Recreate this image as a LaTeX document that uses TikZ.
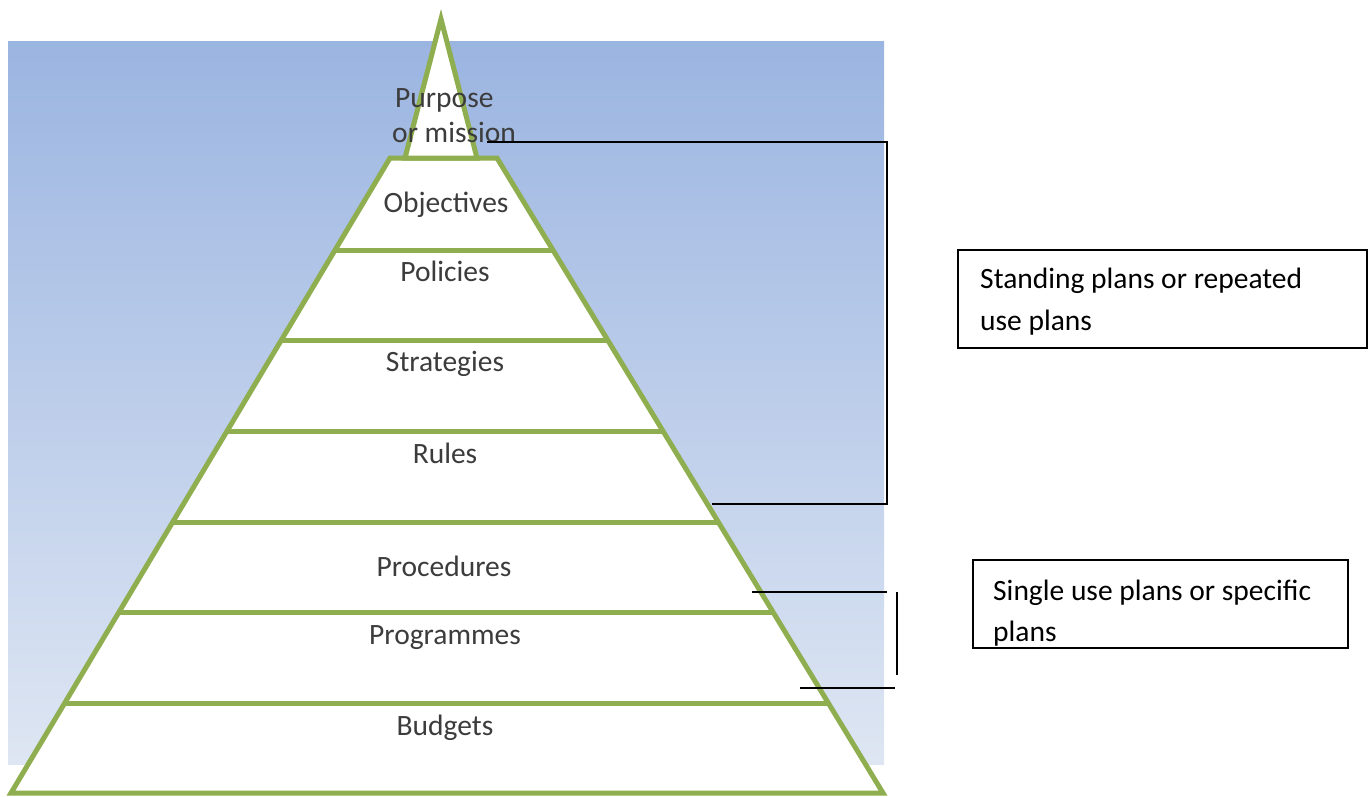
\documentclass[tikz,border=0pt]{standalone}
\usepackage{fontspec}
\setmainfont{Carlito}
\definecolor{bgtop}{RGB}{155,181,225}
\definecolor{bgbot}{RGB}{222,230,243}
\definecolor{pgreen}{RGB}{143,174,79}
\definecolor{ptext}{RGB}{60,60,60}
\tikzset{
  layer/.style={draw=pgreen, line width=5pt, fill=white},
  sep/.style={draw=pgreen, line width=5pt},
  lbl/.style={anchor=base, inner sep=0pt, text=ptext, font=\fontsize{29.5}{35}\selectfont},
  toplbl/.style={anchor=base west, inner sep=0pt, text=ptext, font=\fontsize{29.5}{35}\selectfont},
  boxtxt/.style={anchor=base west, inner sep=0pt, text=black, font=\fontsize{29.5}{35}\selectfont},
  bracket/.style={draw=black, line width=2pt},
  frame/.style={draw=black, line width=1.5pt}
}
\begin{document}
\begin{tikzpicture}[x=1pt,y=-1pt]
\useasboundingbox (0,0) rectangle (1369,796);
% background
\shade[top color=bgtop, bottom color=bgbot] (8,41) rectangle (884,764);
% pyramid body
\path[layer] (390,158) -- (497,158) -- (883,793) -- (11,793) -- cycle;
% apex
\path[layer] (441,19) -- (477,158) -- (405,158) -- cycle;
% layer separators
\foreach \yy in {250,340,431,522,612,703}{
  \draw[sep] ({390-(\yy-158)*0.5969},\yy) -- ({497+(\yy-158)*0.6079},\yy);
}
% labels
\node[toplbl] (purpose) at (395,107) {Purpose};
\node[toplbl] (mission) at (392,142) {or mission};
\node[lbl] (obj) at (446,212) {Objectives};
\node[lbl] (pol) at (445,281) {Policies};
\node[lbl] (str) at (445,371) {Strategies};
\node[lbl] (rul) at (445,463) {Rules};
\node[lbl] (pro) at (444,576) {Procedures};
\node[lbl] (prg) at (445,644) {Programmes};
\node[lbl] (bud) at (445,735) {Budgets};
% brackets
\coordinate (a1) at (487,142);
\coordinate (a2) at (887,142);
\coordinate (a3) at (887,504);
\coordinate (a4) at (712,504);
\draw[bracket] (a1) -- (a2) -- (a3) -- (a4);
\coordinate (b1) at (752,592);
\coordinate (b2) at (887,592);
\coordinate (c1) at (897,592);
\coordinate (c2) at (897,675);
\coordinate (d1) at (800,688);
\coordinate (d2) at (895,688);
\draw[bracket] (b1) -- (b2);
\draw[bracket] (c1) -- (c2);
\draw[bracket] (d1) -- (d2);
% boxes
\draw[frame] (958,250) rectangle (1367,348);
\node[boxtxt] (st1) at (980,288) {Standing plans or repeated};
\node[boxtxt] (st2) at (980,330) {use plans};
\begin{scope}
\clip (973,560) rectangle (1348,648);
\node[boxtxt] (si1) at (993,600) {Single use plans or specific};
\node[boxtxt] (si2) at (993,641) {plans};
\end{scope}
\draw[frame] (973,560) rectangle (1348,648);
\end{tikzpicture}
\end{document}
